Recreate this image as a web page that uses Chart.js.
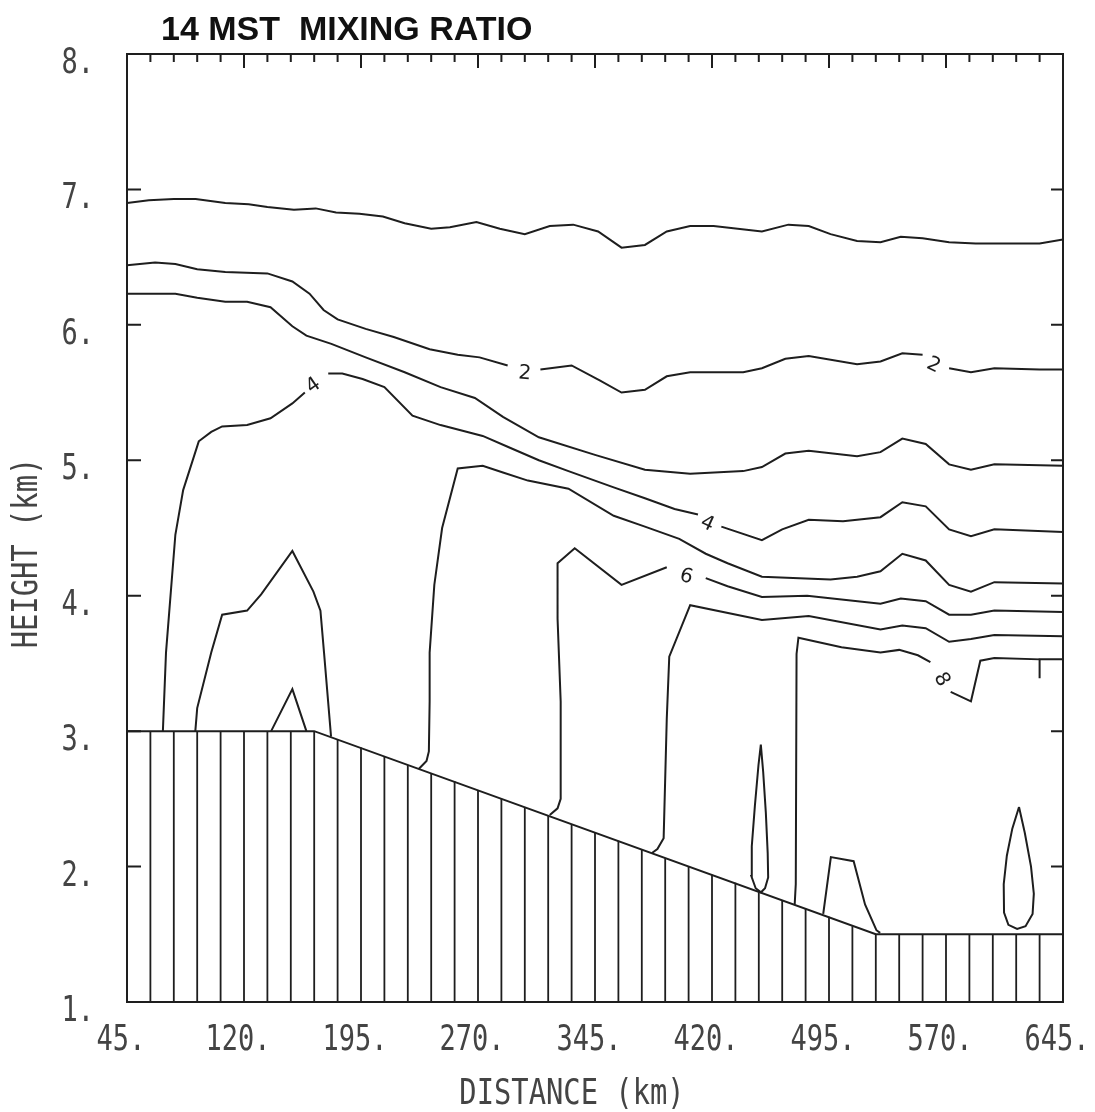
<!DOCTYPE html>
<html>
<head>
<meta charset="utf-8">
<script src="https://cdn.jsdelivr.net/npm/chart.js@4.4.1/dist/chart.umd.min.js"></script>
<style>
  html, body { margin: 0; padding: 0; background: #fff; }
  #wrap { width: 1095px; height: 1112px; }
</style>
</head>
<body>
<div id="wrap"><canvas id="chart" width="1095" height="1112"></canvas></div>
<script>
// axis tick values (km)
const distTicks = [45, 120, 195, 270, 345, 420, 495, 570, 645];
const heightTicks = [1, 2, 3, 4, 5, 6, 7, 8];

// ground profile, hatched below
const terrainDist = [45, 165, 525, 645];
const terrainHeight = [3.0, 3.0, 1.5, 1.5];
const hatchDist = [45, 60, 75, 90, 105, 120, 135, 150, 165, 180, 195, 210, 225, 240, 255, 270,
  285, 300, 315, 330, 345, 360, 375, 390, 405, 420, 435, 450, 465, 480, 495, 510, 525, 540,
  555, 570, 585, 600, 615, 630, 645];
const hatchTop = [3.0, 3.0, 3.0, 3.0, 3.0, 3.0, 3.0, 3.0, 3.0, 2.94, 2.88, 2.81, 2.75, 2.69,
  2.63, 2.56, 2.50, 2.44, 2.38, 2.31, 2.25, 2.19, 2.13, 2.06, 2.00, 1.94, 1.88, 1.81, 1.75,
  1.69, 1.63, 1.56, 1.5, 1.5, 1.5, 1.5, 1.5, 1.5, 1.5, 1.5, 1.5];

// contour lines (distance km / height km); null = gap for a label
const topLineDist = [45, 59, 75, 89, 108, 123, 135, 152, 166, 179, 194, 209, 223, 240, 252, 269,
  284, 300, 316, 331, 347, 362, 377, 391, 406, 421, 452, 469, 482, 496, 513, 528, 541, 555,
  572, 589, 630, 645];
const topLineHeight = [6.90, 6.92, 6.93, 6.93, 6.90, 6.89, 6.87, 6.85, 6.86, 6.83, 6.82, 6.80,
  6.75, 6.71, 6.72, 6.76, 6.71, 6.67, 6.73, 6.74, 6.69, 6.57, 6.59, 6.69, 6.73, 6.73, 6.69,
  6.74, 6.73, 6.67, 6.62, 6.61, 6.65, 6.64, 6.61, 6.60, 6.60, 6.63];

const ratio2Dist = [45, 63, 76, 90, 108, 135, 151, 162, 171, 180, 198, 216, 239, 257, 271, 289,
  300, 310, 330, 348, 362, 377, 391, 406, 440, 452, 467, 482, 513, 528, 542, 555, 562, 572,
  586, 601, 630, 645];
const ratio2Height = [6.44, 6.46, 6.45, 6.41, 6.39, 6.38, 6.32, 6.23, 6.11, 6.04, 5.97, 5.91,
  5.82, 5.78, 5.76, 5.70, null, 5.67, 5.70, 5.59, 5.50, 5.52, 5.62, 5.65, 5.65, 5.68, 5.75,
  5.77, 5.71, 5.73, 5.79, 5.78, null, 5.68, 5.65, 5.68, 5.67, 5.67];

const line3Dist = [45, 63, 76, 90, 108, 122, 137, 151, 160, 176, 198, 223, 246, 268, 286, 309,
  345, 377, 406, 440, 452, 467, 482, 513, 528, 542, 557, 572, 586, 601, 645];
const line3Height = [6.23, 6.23, 6.23, 6.20, 6.17, 6.17, 6.13, 5.99, 5.92, 5.86, 5.76, 5.65,
  5.54, 5.46, 5.32, 5.17, 5.04, 4.93, 4.90, 4.92, 4.95, 5.05, 5.07, 5.03, 5.06, 5.16, 5.12,
  4.97, 4.93, 4.97, 4.96];

const ratio4Dist = [68, 70, 76, 81, 91, 99, 106, 122, 137, 151, 159, 165, 174, 183, 196, 210,
  228, 246, 273, 289, 309, 328, 357, 377, 396, 411, 417, 426, 452, 465, 482, 504, 528, 542,
  557, 572, 586, 601, 645];
const ratio4Height = [3.0, 3.58, 4.45, 4.78, 5.14, 5.21, 5.25, 5.26, 5.31, 5.42, 5.50, null,
  5.64, 5.64, 5.60, 5.54, 5.33, 5.26, 5.18, 5.10, 5.00, 4.92, 4.80, 4.72, 4.64, 4.60, null,
  4.51, 4.41, 4.49, 4.56, 4.55, 4.58, 4.69, 4.66, 4.49, 4.44, 4.49, 4.47];

const line5Dist = [232, 237, 238.5, 239, 239, 242, 247, 257, 273, 286, 302, 328, 357, 377, 399,
  416, 430, 452, 496, 513, 528, 542, 557, 572, 586, 601, 645];
const line5Height = [2.72, 2.78, 2.85, 3.22, 3.58, 4.08, 4.50, 4.94, 4.96, 4.91, 4.85, 4.79,
  4.59, 4.51, 4.42, 4.31, 4.24, 4.14, 4.12, 4.14, 4.18, 4.31, 4.26, 4.08, 4.03, 4.10, 4.09];

const ratio6Dist = [316, 321, 323, 323, 323, 321, 321, 332, 362, 391, 403, 416, 430, 452, 481,
  528, 541, 557, 572, 586, 601, 645];
const ratio6Height = [2.38, 2.43, 2.50, 2.85, 3.22, 3.83, 4.24, 4.35, 4.08, 4.21, null, 4.13,
  4.07, 3.99, 4.00, 3.94, 3.98, 3.96, 3.86, 3.86, 3.89, 3.88];

const line7Dist = [381.5, 385, 389, 391, 392.6, 406, 452, 482, 528, 542, 557, 572, 586, 601, 645];
const line7Height = [2.10, 2.13, 2.21, 3.09, 3.55, 3.93, 3.82, 3.85, 3.75, 3.78, 3.76, 3.66,
  3.68, 3.71, 3.70];

const ratio8Dist = [473, 473.7, 474.2, 475.4, 503, 528, 540, 552, 560, 567, 573, 586, 592, 601,
  630, 630, 630, 645];
const ratio8Height = [1.72, 1.87, 3.57, 3.69, 3.62, 3.58, 3.60, 3.56, 3.51, null, 3.29, 3.22,
  3.52, 3.54, 3.53, 3.39, 3.53, 3.53];

// small closed / bumped contours
const westCellDist = [88.8, 90, 99, 106, 122, 131, 151, 164.5, 169, 171.3, 175.8];
const westCellHeight = [3.0, 3.17, 3.58, 3.86, 3.89, 4.01, 4.33, 4.03, 3.89, 3.58, 2.96];
const westBumpDist = [137.4, 151, 160];
const westBumpHeight = [3.0, 3.31, 3.0];
const tear1Dist = [451.3, 452.8, 454.5, 455.7, 456, 454, 451.4, 448, 445.2, 445.5, 447.5, 449.8, 451.3];
const tear1Height = [2.90, 2.70, 2.40, 2.10, 1.92, 1.84, 1.81, 1.84, 1.93, 2.15, 2.45, 2.75, 2.90];
const bumpDist = [491.3, 496.2, 510.8, 518.1, 525.4, 527.8];
const bumpHeight = [1.65, 2.07, 2.04, 1.72, 1.53, 1.51];
const tear2Dist = [616.8, 620.5, 624.5, 626.3, 625.5, 621, 615.6, 610, 607.2, 607, 609, 612.5, 616.8];
const tear2Height = [2.44, 2.25, 2.00, 1.80, 1.65, 1.56, 1.54, 1.57, 1.66, 1.87, 2.08, 2.28, 2.44];

// contour value labels
const labelText = ['4', '2', '2', '4', '6', '8'];
const labelDist = [164.6, 300, 562, 417, 403.5, 567];
const labelHeight = [5.55, 5.64, 5.70, 4.53, 4.14, 3.38];
const labelAngle = [-35, 5, 25, 25, 15, 60];

const INK = '#1e1e1e';

function pts(xs, ys) {
  return xs.map((x, i) => ({ x: x, y: ys[i] }));
}

function contour(xs, ys, width) {
  return {
    data: pts(xs, ys),
    showLine: true,
    borderColor: INK,
    borderWidth: width || 2,
    pointRadius: 0,
    fill: false,
    tension: 0,
    spanGaps: false,
  };
}

// vertical hatch strokes: ground level up to terrain, broken by null
const hatchPoints = [];
hatchDist.forEach((d, i) => {
  hatchPoints.push({ x: d, y: 1 }, { x: d, y: hatchTop[i] }, { x: d, y: null });
});

const datasets = [
  { ...contour([], [], 1.8), data: hatchPoints },
  contour(terrainDist, terrainHeight),
  contour(topLineDist, topLineHeight),
  contour(ratio2Dist, ratio2Height),
  contour(line3Dist, line3Height),
  contour(ratio4Dist, ratio4Height),
  contour(line5Dist, line5Height),
  contour(ratio6Dist, ratio6Height),
  contour(line7Dist, line7Height),
  contour(ratio8Dist, ratio8Height),
  contour(westCellDist, westCellHeight),
  contour(westBumpDist, westBumpHeight),
  contour(tear1Dist, tear1Height),
  contour(bumpDist, bumpHeight),
  contour(tear2Dist, tear2Height),
];

// plotter-style condensed text
function plotterText(ctx, text, x, y, align, sx) {
  ctx.save();
  ctx.translate(x, y);
  ctx.scale(sx, 1);
  ctx.textAlign = align;
  ctx.fillText(text, 0, 0);
  ctx.restore();
}

const plotFrame = {
  id: 'plotFrame',
  afterDatasetsDraw(chart) {
    const { ctx, chartArea: a } = chart;
    const xs = chart.scales.x;
    const ys = chart.scales.y;
    ctx.save();

    // frame and inward ticks
    ctx.strokeStyle = INK;
    ctx.lineWidth = 2;
    ctx.strokeRect(a.left, a.top, a.right - a.left, a.bottom - a.top);
    ctx.beginPath();
    hatchDist.forEach((d) => {
      const px = xs.getPixelForValue(d);
      const len = distTicks.includes(d) ? 14 : 8;
      ctx.moveTo(px, a.top);
      ctx.lineTo(px, a.top + len);
    });
    heightTicks.forEach((h) => {
      const py = ys.getPixelForValue(h);
      ctx.moveTo(a.left, py);
      ctx.lineTo(a.left + 14, py);
      ctx.moveTo(a.right, py);
      ctx.lineTo(a.right - 12, py);
    });
    ctx.stroke();

    // contour labels
    ctx.fillStyle = INK;
    ctx.font = '20px "DejaVu Sans"';
    ctx.textAlign = 'center';
    ctx.textBaseline = 'middle';
    labelText.forEach((t, i) => {
      ctx.save();
      ctx.translate(xs.getPixelForValue(labelDist[i]), ys.getPixelForValue(labelHeight[i]));
      ctx.rotate(labelAngle[i] * Math.PI / 180);
      ctx.fillText(t, 0, 0);
      ctx.restore();
    });

    // tick labels
    ctx.fillStyle = '#444';
    ctx.font = '36px "DejaVu Sans Mono"';
    ctx.textBaseline = 'alphabetic';
    distTicks.forEach((d) => {
      plotterText(ctx, d + '.', xs.getPixelForValue(d) - 6, a.bottom + 48, 'center', 0.75);
    });
    heightTicks.forEach((h) => {
      plotterText(ctx, h + '.', a.left - 33, ys.getPixelForValue(h) + 19, 'right', 0.75);
    });

    // axis titles
    plotterText(ctx, 'DISTANCE (km)', 572, 1104, 'center', 0.8);
    ctx.save();
    ctx.translate(37, 553);
    ctx.rotate(-Math.PI / 2);
    ctx.scale(0.8, 1);
    ctx.textAlign = 'center';
    ctx.fillText('HEIGHT (km)', 0, 0);
    ctx.restore();

    // title
    ctx.fillStyle = '#111';
    ctx.font = 'bold 34px "Liberation Sans"';
    ctx.textAlign = 'left';
    ctx.fillText('14 MST  MIXING RATIO', 161, 40);

    ctx.restore();
  },
};

new Chart(document.getElementById('chart'), {
  type: 'scatter',
  data: { datasets: datasets },
  options: {
    responsive: false,
    animation: false,
    devicePixelRatio: 1,
    layout: { padding: { top: 54, right: 32, left: 0, bottom: 0 } },
    plugins: {
      legend: { display: false },
      tooltip: { enabled: false },
      title: { display: false },
    },
    scales: {
      x: {
        type: 'linear',
        min: 45,
        max: 645,
        grid: { display: false, drawTicks: false },
        border: { display: false },
        ticks: { display: false },
        afterFit: (scale) => { scale.height = 110; },
      },
      y: {
        type: 'linear',
        min: 1,
        max: 8,
        grid: { display: false, drawTicks: false },
        border: { display: false },
        ticks: { display: false },
        afterFit: (scale) => { scale.width = 127; },
      },
    },
  },
  plugins: [plotFrame],
});
</script>
</body>
</html>
